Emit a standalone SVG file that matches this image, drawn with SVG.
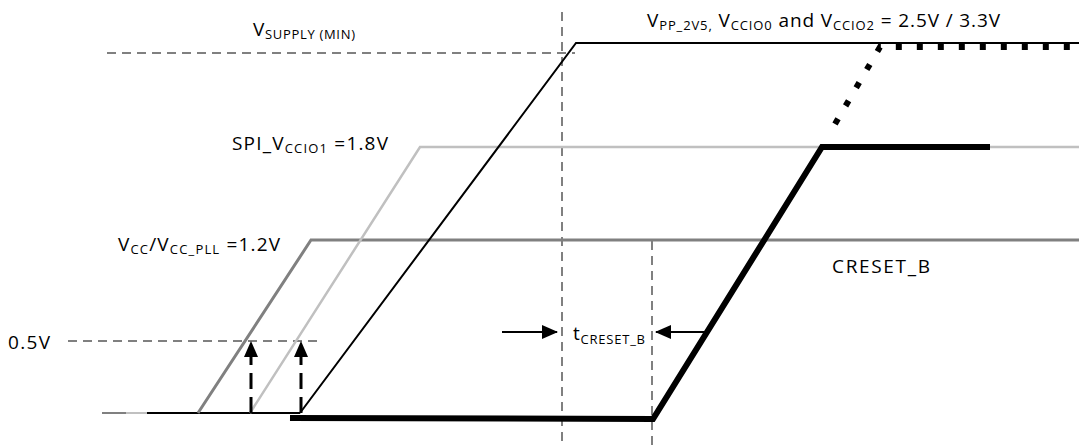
<svg xmlns="http://www.w3.org/2000/svg" width="1079" height="446" viewBox="0 0 1079 446">
<style>
text{font-family:"Open Sans","Liberation Sans",sans-serif;fill:#000;font-size:19px}
.sub{font-size:13px}
.gd{fill:none;stroke:#808080;stroke-width:2;stroke-dasharray:9,6}
</style>
<defs>
<marker id="au" markerWidth="16" markerHeight="14" refX="15" refY="7" orient="auto" markerUnits="userSpaceOnUse"><path d="M0,0 L16,7 L0,14 z" fill="#000"/></marker>
</defs>
<rect width="1079" height="446" fill="#fff"/>
<g id="connectors">
<line class="gd" x1="107" y1="53" x2="575" y2="53"/>
<line class="gd" x1="562" y1="12" x2="562" y2="446"/>
<line class="gd" x1="652" y1="241" x2="652" y2="446"/>
<line class="gd" x1="68" y1="341" x2="318" y2="341"/>
<line x1="102" y1="413" x2="126" y2="413" stroke="#808080" stroke-width="2"/>
<line x1="126" y1="413" x2="147" y2="413" stroke="#c0c0c0" stroke-width="2"/>
<line x1="147" y1="413" x2="300" y2="413" stroke="#000" stroke-width="2"/>
<polyline points="198,413 311,240 1079,240" fill="none" stroke="#808080" stroke-width="3"/>
<polyline points="250,413 420,147 1079,147" fill="none" stroke="#c0c0c0" stroke-width="2.5"/>
<polyline points="300,413 576,43 1079,43" fill="none" stroke="#000" stroke-width="2"/>
<polyline points="290,418 653,419 822,147 990,147" fill="none" stroke="#000" stroke-width="6"/>
<polyline points="835,124 880,47 1079,47" fill="none" stroke="#000" stroke-width="6" stroke-dasharray="6,15"/>
<line x1="251" y1="413" x2="251" y2="342" stroke="#000" stroke-width="3" stroke-dasharray="16,8" marker-end="url(#au)"/>
<line x1="301" y1="413" x2="301" y2="342" stroke="#000" stroke-width="3" stroke-dasharray="16,8" marker-end="url(#au)"/>
<line x1="502" y1="332" x2="557" y2="332" stroke="#000" stroke-width="2" marker-end="url(#au)"/>
<line x1="705" y1="332" x2="656" y2="332" stroke="#000" stroke-width="2" marker-end="url(#au)"/>
</g>
<g id="label-vsupply"><text x="253" y="36" textLength="102" lengthAdjust="spacing">V<tspan class="sub" dy="3">SUPPLY (MIN)</tspan></text></g>
<g id="label-vpp"><text x="647" y="27" textLength="353" lengthAdjust="spacing">V<tspan class="sub" dy="3">PP_2V5,</tspan><tspan dy="-3"> V</tspan><tspan class="sub" dy="3">CCIO0</tspan><tspan dy="-3"> and V</tspan><tspan class="sub" dy="3">CCIO2</tspan><tspan dy="-3"> = 2.5V / 3.3V</tspan></text></g>
<g id="label-spi"><text x="232" y="150" textLength="156" lengthAdjust="spacing">SPI_V<tspan class="sub" dy="3">CCIO1</tspan><tspan dy="-3"> =1.8V</tspan></text></g>
<g id="label-vcc"><text x="118" y="251" textLength="162" lengthAdjust="spacing">V<tspan class="sub" dy="3">CC</tspan><tspan dy="-3">/V</tspan><tspan class="sub" dy="3">CC_PLL</tspan><tspan dy="-3"> =1.2V</tspan></text></g>
<g id="label-05v"><text x="8" y="349" textLength="42" lengthAdjust="spacing">0.5V</text></g>
<g id="label-creset"><text x="832" y="273" textLength="98" lengthAdjust="spacing">CRESET_B</text></g>
<g id="label-tcreset"><text x="573" y="340" textLength="72" lengthAdjust="spacing">t<tspan class="sub" dy="4">CRESET_B</tspan></text></g>
</svg>
